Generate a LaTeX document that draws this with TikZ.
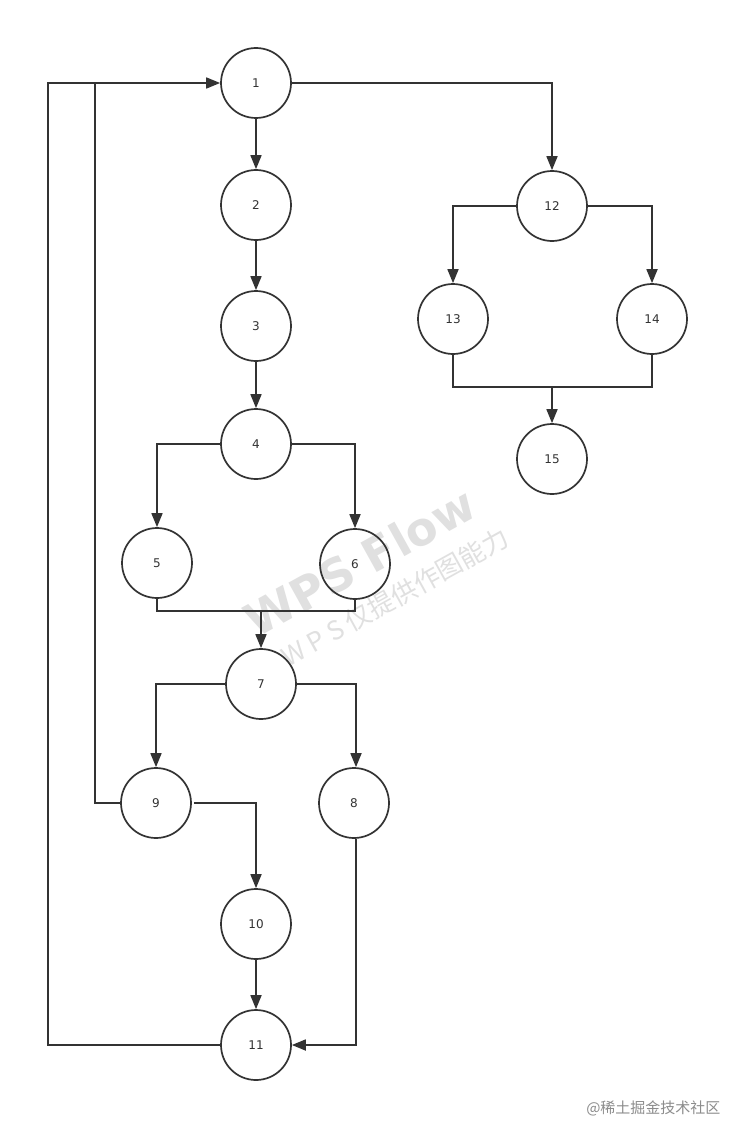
\documentclass[tikz,border=0pt]{standalone}
\usepackage{fontspec}
\setmainfont{DejaVu Sans}
\newfontfamily\cjk{Noto Sans CJK SC}
\usetikzlibrary{arrows.meta}
\definecolor{ink}{HTML}{333333}
\tikzset{
  circ/.style={circle, draw=ink, line width=1.7pt, minimum size=70pt, inner sep=0pt, font=\fontsize{12}{12}\selectfont, text=ink},
  conn/.style={draw=ink, line width=1.7pt, -{Triangle[length=14pt,width=11pt]}},
  plain/.style={draw=ink, line width=1.7pt},
}
\begin{document}
\begin{tikzpicture}[x=1pt,y=-1pt]
\useasboundingbox[fill=white] (0,0) rectangle (748,1142);
% watermark
\node[rotate=29, text=black!12, font=\fontsize{46}{46}\selectfont\bfseries] (wm1) at (360,562) {WPS Flow};
\node[rotate=29, text=black!12, font=\fontsize{26}{26}\selectfont\cjk] (wm2) at (395,597) {W P S 仅提供作图能力};
\node[text=black!45, font=\fontsize{15}{15}\selectfont\cjk, anchor=east] (credit) at (724,1108) {@稀土掘金技术社区};
% nodes
\node[circ] (n1) at (256,83) {1};
\node[circ] (n2) at (256,205) {2};
\node[circ] (n3) at (256,326) {3};
\node[circ] (n4) at (256,444) {4};
\node[circ] (n5) at (157,563) {5};
\node[circ] (n6) at (355,564) {6};
\node[circ] (n7) at (261,684) {7};
\node[circ] (n8) at (354,803) {8};
\node[circ] (n9) at (156,803) {9};
\node[circ] (n10) at (256,924) {10};
\node[circ] (n11) at (256,1045) {11};
\node[circ] (n12) at (552,206) {12};
\node[circ] (n13) at (453,319) {13};
\node[circ] (n14) at (652,319) {14};
\node[circ] (n15) at (552,459) {15};
% helper coordinates
\coordinate (j56) at (261,611);
\coordinate (j1314) at (552,387);
\coordinate (a9) at (95,83);
\coordinate (a11) at (48,83);
% edges
\draw[conn] (n1) -- (n2);
\draw[conn] (n2) -- (n3);
\draw[conn] (n3) -- (n4);
\draw[conn] (n1.east) -| (n12.north);
\draw[conn] (n4.west) -| (n5.north);
\draw[conn] (n4.east) -| (n6.north);
\draw[plain] (n5.south) |- (j56) -| (n6.south);
\draw[conn] (j56) -- (n7.north);
\draw[conn] (n7.west) -| (n9.north);
\draw[conn] (n7.east) -| ([xshift=2pt]n8.north);
\draw[conn] ([xshift=2pt]n9.east) -| (n10.north);
\draw[conn] (n10) -- (n11);
\draw[conn] ([xshift=2pt]n8.south) |- (n11.east);
\draw[plain] (n9.west) -| (a9);
\draw[conn] (n11.west) -| (a11) -- (n1.west);
\draw[conn] (n12.west) -| (n13.north);
\draw[conn] (n12.east) -| (n14.north);
\draw[plain] (n13.south) |- (j1314) -| (n14.south);
\draw[conn] (j1314) -- (n15.north);
\end{tikzpicture}
\end{document}
